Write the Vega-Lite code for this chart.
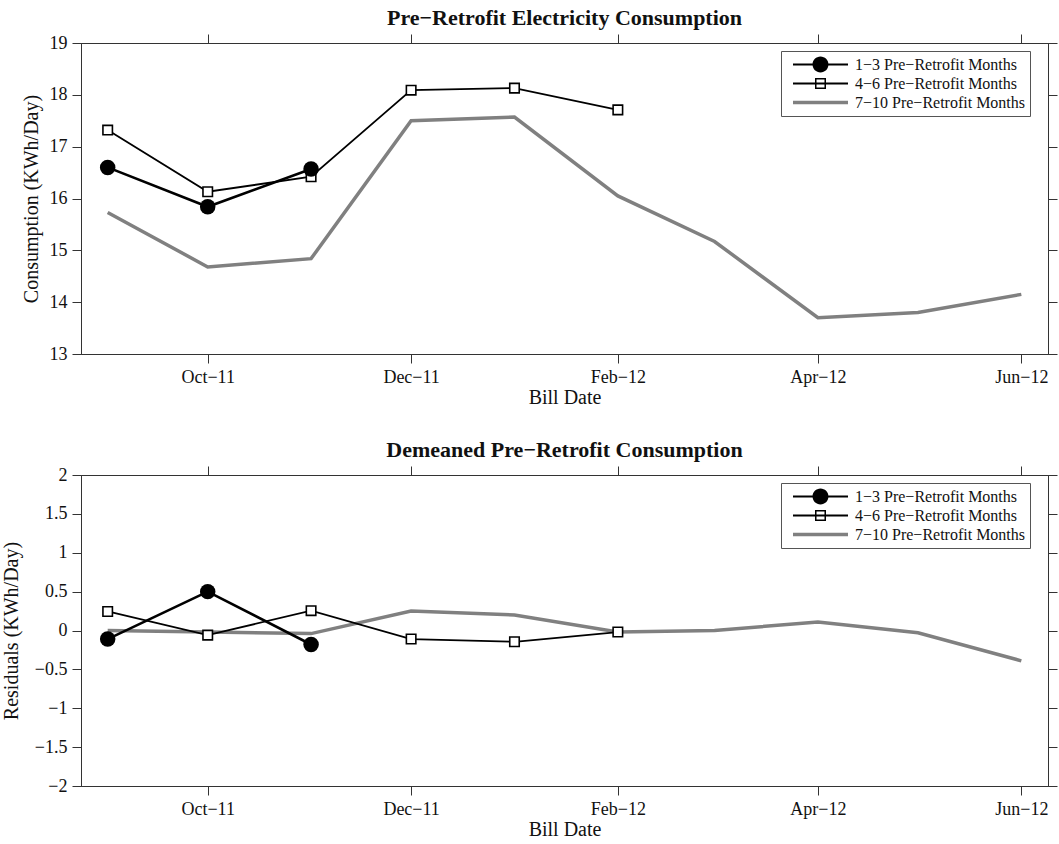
{
  "$schema": "https://vega.github.io/schema/vega-lite/v6.json",
  "background": "white",
  "padding": {"left": 0, "top": 6, "right": 0, "bottom": 0},
  "config": {
    "font": "Liberation Serif",
    "view": {"stroke": "#333333", "strokeWidth": 1},
    "axis": {
      "grid": false,
      "labelFont": "Liberation Serif",
      "labelFontSize": 18,
      "labelColor": "#111111",
      "labelPadding": 5,
      "labelFlush": false,
      "labelOverlap": false,
      "titleFont": "Liberation Serif",
      "titleFontSize": 20,
      "titleFontWeight": "normal",
      "titleColor": "#111111",
      "tickSize": 9,
      "tickColor": "#333333",
      "domainColor": "#333333"
    },
    "title": {"font": "Liberation Serif", "fontSize": 22, "fontWeight": "bold", "color": "#111111", "anchor": "middle", "offset": 4}
  },
  "datasets": {
    "top": [
      {"series": "1−3 Pre−Retrofit Months", "date": "2011-09-01", "value": 16.60},
      {"series": "1−3 Pre−Retrofit Months", "date": "2011-10-01", "value": 15.84},
      {"series": "1−3 Pre−Retrofit Months", "date": "2011-11-01", "value": 16.57},
      {"series": "4−6 Pre−Retrofit Months", "date": "2011-09-01", "value": 17.32},
      {"series": "4−6 Pre−Retrofit Months", "date": "2011-10-01", "value": 16.13},
      {"series": "4−6 Pre−Retrofit Months", "date": "2011-11-01", "value": 16.42},
      {"series": "4−6 Pre−Retrofit Months", "date": "2011-12-01", "value": 18.09},
      {"series": "4−6 Pre−Retrofit Months", "date": "2012-01-01", "value": 18.13},
      {"series": "4−6 Pre−Retrofit Months", "date": "2012-02-01", "value": 17.71},
      {"series": "7−10 Pre−Retrofit Months", "date": "2011-09-01", "value": 15.73},
      {"series": "7−10 Pre−Retrofit Months", "date": "2011-10-01", "value": 14.68},
      {"series": "7−10 Pre−Retrofit Months", "date": "2011-11-01", "value": 14.84},
      {"series": "7−10 Pre−Retrofit Months", "date": "2011-12-01", "value": 17.50},
      {"series": "7−10 Pre−Retrofit Months", "date": "2012-01-01", "value": 17.57},
      {"series": "7−10 Pre−Retrofit Months", "date": "2012-02-01", "value": 16.05},
      {"series": "7−10 Pre−Retrofit Months", "date": "2012-03-01", "value": 15.17},
      {"series": "7−10 Pre−Retrofit Months", "date": "2012-04-01", "value": 13.70},
      {"series": "7−10 Pre−Retrofit Months", "date": "2012-05-01", "value": 13.80},
      {"series": "7−10 Pre−Retrofit Months", "date": "2012-06-01", "value": 14.15}
    ],
    "bottom": [
      {"series": "1−3 Pre−Retrofit Months", "date": "2011-09-01", "value": -0.11},
      {"series": "1−3 Pre−Retrofit Months", "date": "2011-10-01", "value": 0.50},
      {"series": "1−3 Pre−Retrofit Months", "date": "2011-11-01", "value": -0.18},
      {"series": "4−6 Pre−Retrofit Months", "date": "2011-09-01", "value": 0.245},
      {"series": "4−6 Pre−Retrofit Months", "date": "2011-10-01", "value": -0.06},
      {"series": "4−6 Pre−Retrofit Months", "date": "2011-11-01", "value": 0.255},
      {"series": "4−6 Pre−Retrofit Months", "date": "2011-12-01", "value": -0.11},
      {"series": "4−6 Pre−Retrofit Months", "date": "2012-01-01", "value": -0.145},
      {"series": "4−6 Pre−Retrofit Months", "date": "2012-02-01", "value": -0.02},
      {"series": "7−10 Pre−Retrofit Months", "date": "2011-09-01", "value": 0.0},
      {"series": "7−10 Pre−Retrofit Months", "date": "2011-10-01", "value": -0.02},
      {"series": "7−10 Pre−Retrofit Months", "date": "2011-11-01", "value": -0.04},
      {"series": "7−10 Pre−Retrofit Months", "date": "2011-12-01", "value": 0.25},
      {"series": "7−10 Pre−Retrofit Months", "date": "2012-01-01", "value": 0.20},
      {"series": "7−10 Pre−Retrofit Months", "date": "2012-02-01", "value": -0.02},
      {"series": "7−10 Pre−Retrofit Months", "date": "2012-03-01", "value": 0.0},
      {"series": "7−10 Pre−Retrofit Months", "date": "2012-04-01", "value": 0.11},
      {"series": "7−10 Pre−Retrofit Months", "date": "2012-05-01", "value": -0.03},
      {"series": "7−10 Pre−Retrofit Months", "date": "2012-06-01", "value": -0.39}
    ]
  },
  "spacing": 121,
  "bounds": "flush",
  "resolve": {
    "scale": {"fill": "independent", "shape": "independent"},
    "legend": {"fill": "independent", "shape": "independent"}
  },
  "vconcat": [
    {
      "width": 967,
      "height": 311,
      "title": "Pre−Retrofit Electricity Consumption",
      "data": {"name": "top"},
      "resolve": {"axis": {"x": "independent", "y": "independent"}},
      "layer": [
        {
          "transform": [{"filter": "datum.series === '7−10 Pre−Retrofit Months'"}],
          "mark": {"type": "line", "color": "#808080", "strokeWidth": 3.5},
          "encoding": {
            "x": {"field": "date", "type": "temporal",
              "scale": {"type": "utc", "domain": [{"year": 2011, "month": 8, "date": 24, "utc": true}, {"year": 2012, "month": 6, "date": 9, "utc": true}]},
              "axis": {"orient": "bottom", "title": "Bill Date", "titlePadding": 1,
                "values": [{"year": 2011, "month": 10, "date": 1, "utc": true}, {"year": 2011, "month": 12, "date": 1, "utc": true}, {"year": 2012, "month": 2, "date": 1, "utc": true}, {"year": 2012, "month": 4, "date": 1, "utc": true}, {"year": 2012, "month": 6, "date": 1, "utc": true}],
                "labelExpr": "utcFormat(datum.value, '%b') + '−' + utcFormat(datum.value, '%y')"}},
            "y": {"field": "value", "type": "quantitative",
              "scale": {"domain": [13, 19], "nice": false, "zero": false},
              "axis": {"orient": "left", "values": [13, 14, 15, 16, 17, 18, 19], "title": "Consumption (KWh/Day)", "titlePadding": 8, "format": "~g"}}
          }
        },
        {
          "transform": [{"filter": "datum.series === '4−6 Pre−Retrofit Months'"}],
          "mark": {"type": "line", "color": "#000000", "strokeWidth": 1.8},
          "encoding": {
            "x": {"field": "date", "type": "temporal",
              "axis": {"orient": "top", "title": null, "labels": false,
                "values": [{"year": 2011, "month": 10, "date": 1, "utc": true}, {"year": 2011, "month": 12, "date": 1, "utc": true}, {"year": 2012, "month": 2, "date": 1, "utc": true}, {"year": 2012, "month": 4, "date": 1, "utc": true}, {"year": 2012, "month": 6, "date": 1, "utc": true}]}},
            "y": {"field": "value", "type": "quantitative",
              "axis": {"orient": "right", "title": null, "labels": false, "values": [13, 14, 15, 16, 17, 18, 19]}}
          }
        },
        {
          "transform": [{"filter": "datum.series === '4−6 Pre−Retrofit Months'"}],
          "mark": {"type": "point", "shape": "square", "size": 90, "filled": true, "fill": "#ffffff", "stroke": "#000000", "strokeWidth": 1.6, "opacity": 1},
          "encoding": {
            "x": {"field": "date", "type": "temporal", "axis": null},
            "y": {"field": "value", "type": "quantitative", "axis": null}
          }
        },
        {
          "transform": [{"filter": "datum.series === '1−3 Pre−Retrofit Months'"}],
          "mark": {"type": "line", "color": "#000000", "strokeWidth": 2.6},
          "encoding": {
            "x": {"field": "date", "type": "temporal", "axis": null},
            "y": {"field": "value", "type": "quantitative", "axis": null}
          }
        },
        {
          "transform": [{"filter": "datum.series === '1−3 Pre−Retrofit Months'"}],
          "mark": {"type": "point", "shape": "circle", "size": 240, "filled": true, "fill": "#000000", "strokeWidth": 0, "opacity": 1},
          "encoding": {
            "x": {"field": "date", "type": "temporal", "axis": null},
            "y": {"field": "value", "type": "quantitative", "axis": null}
          }
        },
        {
          "transform": [{"filter": "false"}],
          "mark": {"type": "point", "filled": true, "opacity": 1},
          "encoding": {
            "fill": {"field": "series", "type": "nominal",
              "scale": {"domain": ["1−3 Pre−Retrofit Months", "4−6 Pre−Retrofit Months", "7−10 Pre−Retrofit Months"], "range": ["#000000", "#000000", "#808080"]},
              "legend": {"title": null, "orient": "none", "legendX": 700, "legendY": 8, "symbolSize": 3025, "symbolStrokeWidth": 0, "clipHeight": 19, "rowPadding": 0, "padding": 4, "symbolOffset": 8, "labelOffset": 7, "labelFontSize": 16, "labelFont": "Liberation Serif", "labelColor": "#111111", "strokeColor": "#555555", "fillColor": "#ffffff", "labelLimit": 300}},
            "shape": {"field": "series", "type": "nominal",
              "scale": {"domain": ["1−3 Pre−Retrofit Months", "4−6 Pre−Retrofit Months", "7−10 Pre−Retrofit Months"],
                "range": ["M-1,-0.04H1V0.04H-1Z M0.29,0A0.29,0.29,0,1,1,-0.29,0A0.29,0.29,0,1,1,0.29,0Z", "M-1,-0.033H1V0.033H-1Z M-0.2,-0.2H0.2V0.2H-0.2Z M-0.145,-0.145V0.145H0.145V-0.145Z", "M-1,-0.064H1V0.064H-1Z"]},
              "legend": {"title": null, "orient": "none", "legendX": 700, "legendY": 8, "symbolSize": 3025, "symbolStrokeWidth": 0, "clipHeight": 19, "rowPadding": 0, "padding": 4, "symbolOffset": 8, "labelOffset": 7, "labelFontSize": 16, "labelFont": "Liberation Serif", "labelColor": "#111111", "strokeColor": "#555555", "fillColor": "#ffffff", "labelLimit": 300}}
          }
        }
      ]
    },
    {
      "width": 967,
      "height": 311,
      "title": "Demeaned Pre−Retrofit Consumption",
      "data": {"name": "bottom"},
      "resolve": {"axis": {"x": "independent", "y": "independent"}},
      "layer": [
        {
          "transform": [{"filter": "datum.series === '7−10 Pre−Retrofit Months'"}],
          "mark": {"type": "line", "color": "#808080", "strokeWidth": 3.5},
          "encoding": {
            "x": {"field": "date", "type": "temporal",
              "scale": {"type": "utc", "domain": [{"year": 2011, "month": 8, "date": 24, "utc": true}, {"year": 2012, "month": 6, "date": 9, "utc": true}]},
              "axis": {"orient": "bottom", "title": "Bill Date", "titlePadding": 1,
                "values": [{"year": 2011, "month": 10, "date": 1, "utc": true}, {"year": 2011, "month": 12, "date": 1, "utc": true}, {"year": 2012, "month": 2, "date": 1, "utc": true}, {"year": 2012, "month": 4, "date": 1, "utc": true}, {"year": 2012, "month": 6, "date": 1, "utc": true}],
                "labelExpr": "utcFormat(datum.value, '%b') + '−' + utcFormat(datum.value, '%y')"}},
            "y": {"field": "value", "type": "quantitative",
              "scale": {"domain": [-2, 2], "nice": false, "zero": false},
              "axis": {"orient": "left", "values": [-2, -1.5, -1, -0.5, 0, 0.5, 1, 1.5, 2], "title": "Residuals (KWh/Day)", "titlePadding": 13, "format": "~g"}}
          }
        },
        {
          "transform": [{"filter": "datum.series === '4−6 Pre−Retrofit Months'"}],
          "mark": {"type": "line", "color": "#000000", "strokeWidth": 1.8},
          "encoding": {
            "x": {"field": "date", "type": "temporal",
              "axis": {"orient": "top", "title": null, "labels": false,
                "values": [{"year": 2011, "month": 10, "date": 1, "utc": true}, {"year": 2011, "month": 12, "date": 1, "utc": true}, {"year": 2012, "month": 2, "date": 1, "utc": true}, {"year": 2012, "month": 4, "date": 1, "utc": true}, {"year": 2012, "month": 6, "date": 1, "utc": true}]}},
            "y": {"field": "value", "type": "quantitative",
              "axis": {"orient": "right", "title": null, "labels": false, "values": [-2, -1.5, -1, -0.5, 0, 0.5, 1, 1.5, 2]}}
          }
        },
        {
          "transform": [{"filter": "datum.series === '4−6 Pre−Retrofit Months'"}],
          "mark": {"type": "point", "shape": "square", "size": 90, "filled": true, "fill": "#ffffff", "stroke": "#000000", "strokeWidth": 1.6, "opacity": 1},
          "encoding": {
            "x": {"field": "date", "type": "temporal", "axis": null},
            "y": {"field": "value", "type": "quantitative", "axis": null}
          }
        },
        {
          "transform": [{"filter": "datum.series === '1−3 Pre−Retrofit Months'"}],
          "mark": {"type": "line", "color": "#000000", "strokeWidth": 2.6},
          "encoding": {
            "x": {"field": "date", "type": "temporal", "axis": null},
            "y": {"field": "value", "type": "quantitative", "axis": null}
          }
        },
        {
          "transform": [{"filter": "datum.series === '1−3 Pre−Retrofit Months'"}],
          "mark": {"type": "point", "shape": "circle", "size": 240, "filled": true, "fill": "#000000", "strokeWidth": 0, "opacity": 1},
          "encoding": {
            "x": {"field": "date", "type": "temporal", "axis": null},
            "y": {"field": "value", "type": "quantitative", "axis": null}
          }
        },
        {
          "transform": [{"filter": "false"}],
          "mark": {"type": "point", "filled": true, "opacity": 1},
          "encoding": {
            "fill": {"field": "series", "type": "nominal",
              "scale": {"domain": ["1−3 Pre−Retrofit Months", "4−6 Pre−Retrofit Months", "7−10 Pre−Retrofit Months"], "range": ["#000000", "#000000", "#808080"]},
              "legend": {"title": null, "orient": "none", "legendX": 700, "legendY": 8, "symbolSize": 3025, "symbolStrokeWidth": 0, "clipHeight": 19, "rowPadding": 0, "padding": 4, "symbolOffset": 8, "labelOffset": 7, "labelFontSize": 16, "labelFont": "Liberation Serif", "labelColor": "#111111", "strokeColor": "#555555", "fillColor": "#ffffff", "labelLimit": 300}},
            "shape": {"field": "series", "type": "nominal",
              "scale": {"domain": ["1−3 Pre−Retrofit Months", "4−6 Pre−Retrofit Months", "7−10 Pre−Retrofit Months"],
                "range": ["M-1,-0.04H1V0.04H-1Z M0.29,0A0.29,0.29,0,1,1,-0.29,0A0.29,0.29,0,1,1,0.29,0Z", "M-1,-0.033H1V0.033H-1Z M-0.2,-0.2H0.2V0.2H-0.2Z M-0.145,-0.145V0.145H0.145V-0.145Z", "M-1,-0.064H1V0.064H-1Z"]},
              "legend": {"title": null, "orient": "none", "legendX": 700, "legendY": 8, "symbolSize": 3025, "symbolStrokeWidth": 0, "clipHeight": 19, "rowPadding": 0, "padding": 4, "symbolOffset": 8, "labelOffset": 7, "labelFontSize": 16, "labelFont": "Liberation Serif", "labelColor": "#111111", "strokeColor": "#555555", "fillColor": "#ffffff", "labelLimit": 300}}
          }
        }
      ]
    }
  ]
}
